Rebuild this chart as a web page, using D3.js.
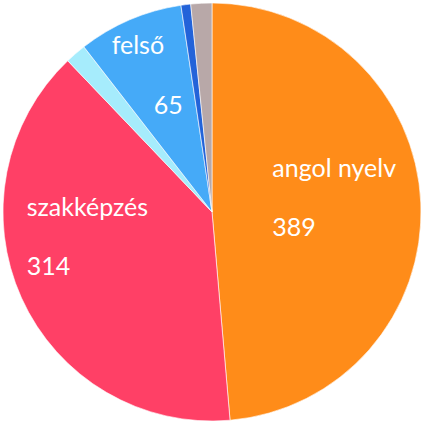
<!DOCTYPE html>
<html><head><meta charset="utf-8">
<script src="https://cdn.jsdelivr.net/npm/d3@7"></script>
<style>html,body{margin:0;padding:0;background:#fff;}svg{display:block;}</style>
</head><body>
<svg id="c" width="423" height="423"></svg>
<script>
const categories = ["angol nyelv", "szakképzés", "alap", "felső", "egyéb", "nincs adat"];
const values = [389, 314, 13, 65, 6, 13];
const colors = ["#FF8C19", "#FF4066", "#A6ECFC", "#45AAF8", "#2363D9", "#B8A8A8"];
const showLabel = [true, true, false, true, false, false];

// label placement (offsets from each slice's centroid): [nameDx, nameDy, valueDx, valueDy]
const labelOffsets = [[-65, -30, -65, 29], [-71, -48, -71, 11], null, [-51, -43, -9, 17], null, null];

const W = 423, H = 423, cx = 212, cy = 212, R = 209;
const svg = d3.select("#c");
const g = svg.append("g").attr("transform", `translate(${cx},${cy})`);
const pie = d3.pie().sort(null).value(d => d.v);
const data = categories.map((c, i) => ({c, v: values[i], i}));
const arcs = pie(data);
const arc = d3.arc().innerRadius(0).outerRadius(R);
const labelArc = d3.arc().innerRadius(R * 0.6).outerRadius(R * 0.6);

g.selectAll("path").data(arcs).join("path")
  .attr("d", arc)
  .attr("fill", d => colors[d.data.i])
  .attr("stroke", "#fff").attr("stroke-width", 0.6);

const lbl = g.selectAll("g.lbl").data(arcs.filter(d => showLabel[d.data.i])).join("g").attr("class", "lbl");
lbl.each(function(d) {
  const [x, y] = labelArc.centroid(d);
  const o = labelOffsets[d.data.i];
  const s = d3.select(this);
  s.append("text").attr("x", x + o[0]).attr("y", y + o[1]).text(d.data.c);
  s.append("text").attr("x", x + o[2]).attr("y", y + o[3]).text(d3.format("d")(d.data.v));
});
lbl.selectAll("text")
  .attr("fill", "#fff")
  .attr("font-family", "Lato, 'Open Sans', sans-serif")
  .attr("font-size", 25)
  .attr("text-anchor", "start");
</script>
</body></html>
